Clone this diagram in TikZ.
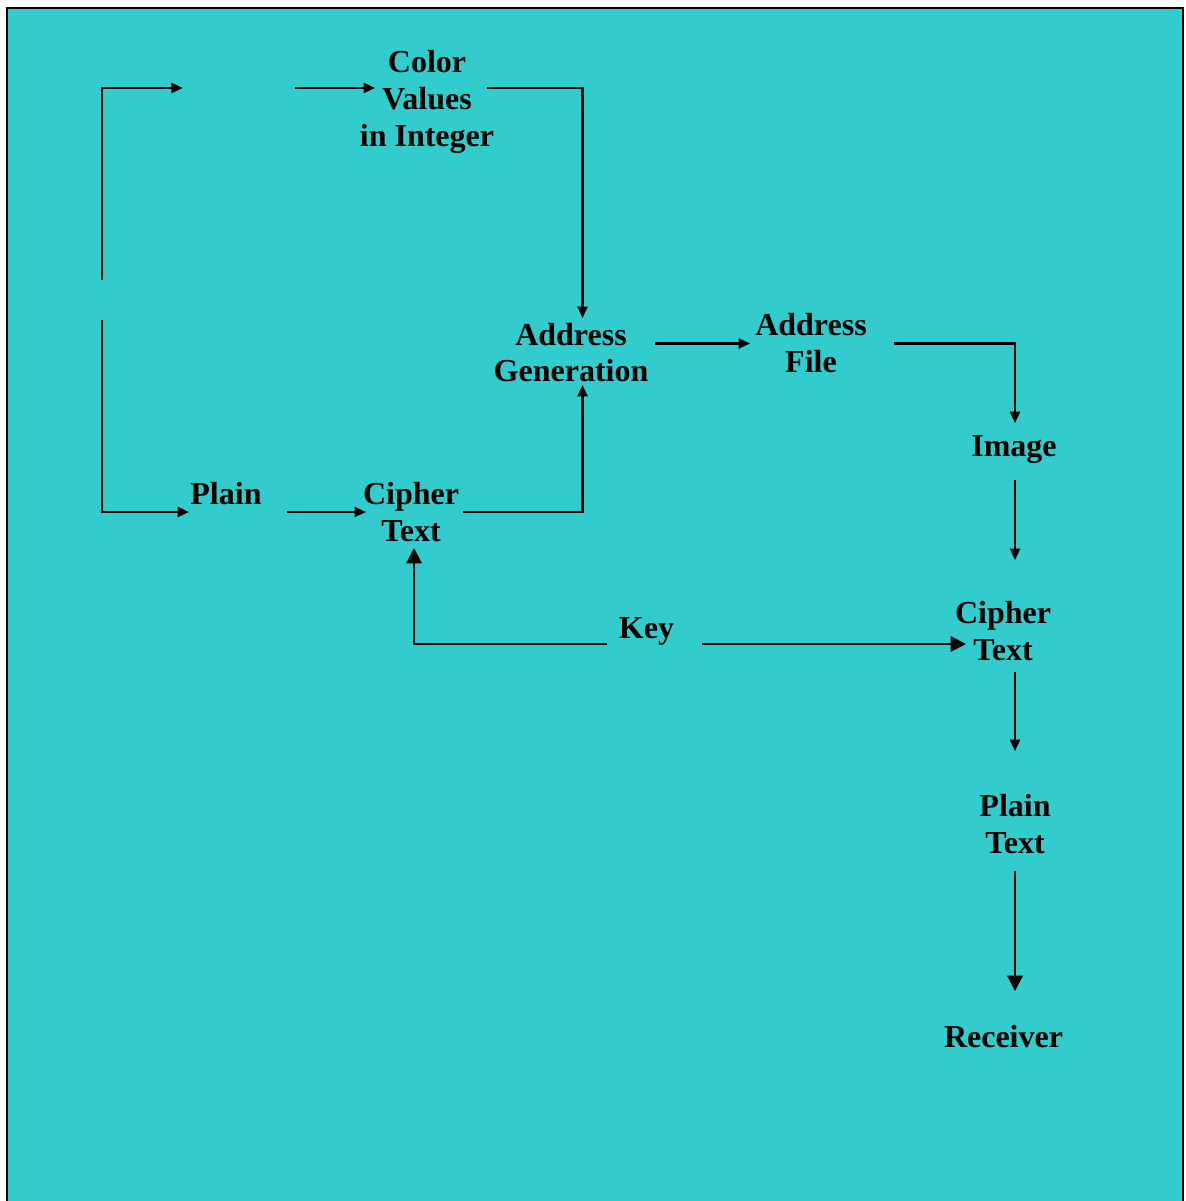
\documentclass[tikz,border=0pt]{standalone}
\usepackage{fontspec}
\setmainfont{Liberation Serif}
\usetikzlibrary{arrows.meta}
\definecolor{bgteal}{RGB}{51,204,204}
\newcommand{\lbl}[1]{\begin{tabular}[t]{@{}c@{}}#1\end{tabular}}
\tikzset{
  lab/.style={anchor=base, inner sep=0pt, font=\fontsize{24}{27.75}\selectfont\bfseries},
  ghost/.style={inner sep=0pt, draw=none},
  conn/.style={line width=1.6pt, -{Triangle[length=8.5pt,width=7.5pt]}},
  connbig/.style={line width=1.6pt, -{Triangle[length=11.5pt,width=11.5pt]}},
}
\begin{document}
\begin{tikzpicture}[x=0.75pt,y=-0.75pt]
\useasboundingbox (0,0) rectangle (1185,1201);
\fill[white] (0,0) rectangle (1185,1201);
\fill[bgteal] (7,8) rectangle (1183,1201);
\draw[line width=1.5pt] (7,1201) -- (7,8) -- (1183,8) -- (1183,1201);

% invisible nodes
\node[ghost, minimum width=112*0.75pt, minimum height=10pt] (blank) at (239,88) {};
\node[ghost, minimum width=4pt, minimum height=40*0.75pt] (gap) at (102,300) {};

% labels
\node[lab] (cv) at (427,73) {\lbl{Color\\Values\\in Integer}};
\node[lab] (plain) at (226,504) {\lbl{Plain}};
\node[lab] (ct1) at (411,504) {\lbl{Cipher\\Text}};
\node[lab] (ag) at (571,345) {\lbl{Address\\Generation}};
\node[lab] (af) at (811,336) {\lbl{Address\\File}};
\node[lab] (img) at (1014,456) {\lbl{Image}};
\node[lab] (ct2) at (1003,623) {\lbl{Cipher\\Text}};
\node[lab] (key) at (646.5,638) {\lbl{Key}};
\node[lab] (pt) at (1015,816) {\lbl{Plain\\Text}};
\node[lab] (rcv) at (1003.5,1047) {\lbl{Receiver}};

% endpoint coordinates
\coordinate (cvIn) at (375,88);
\coordinate (cvOut) at (487,88);
\coordinate (plainIn) at (189,512);
\coordinate (plainOut) at (287,512);
\coordinate (ct1In) at (366,512);
\coordinate (ct1Out) at (463,512);
\coordinate (ct1Bot) at (414,548);
\coordinate (agTop) at (582.5,318);
\coordinate (agBot) at (582.5,385);
\coordinate (agOut) at (655,343.5);
\coordinate (afIn) at (750,343.5);
\coordinate (afOut) at (894,343.5);
\coordinate (imgTop) at (1015,423);
\coordinate (imgBot) at (1015,480);
\coordinate (ct2Top) at (1015,560);
\coordinate (ct2In) at (966,644);
\coordinate (ct2Bot) at (1015,672);
\coordinate (keyL) at (607,644);
\coordinate (keyR) at (702,644);
\coordinate (ptTop) at (1015,751);
\coordinate (ptBot) at (1015,871);
\coordinate (rcvTop) at (1015,991);

% connectors
\draw[conn] (gap.north) |- (blank.west);
\draw[conn] (gap.south) |- (plainIn);
\draw[conn] (blank.east) -- (cvIn);
\draw[conn] (cvOut) -| (agTop);
\draw[conn] (plainOut) -- (ct1In);
\draw[conn] (ct1Out) -| (agBot);
\draw[conn] (agOut) -- (afIn);
\draw[conn] (afOut) -| (imgTop);
\draw[conn] (imgBot) -- (ct2Top);
\draw[connbig] (keyL) -| (ct1Bot);
\draw[connbig] (keyR) -- (ct2In);
\draw[conn] (ct2Bot) -- (ptTop);
\draw[connbig] (ptBot) -- (rcvTop);
\end{tikzpicture}
\end{document}
